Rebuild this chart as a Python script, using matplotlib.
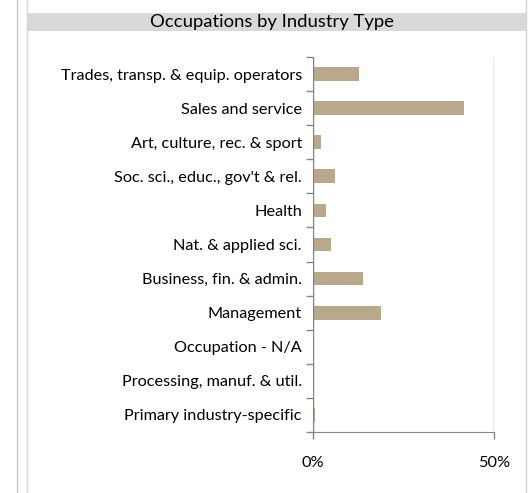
import matplotlib
matplotlib.use('Agg')
import matplotlib.pyplot as plt
from matplotlib.patches import Rectangle
from matplotlib.lines import Line2D
from matplotlib.ticker import FuncFormatter

plt.rcParams['font.family'] = ['Lato', 'DejaVu Sans']

# categories from top to bottom as in the chart
categories = ['Trades, transp. & equip. operators', 'Sales and service',
              'Art, culture, rec. & sport', "Soc. sci., educ., gov't & rel.",
              'Health', 'Nat. & applied sci.', 'Business, fin. & admin.',
              'Management', 'Occupation - N/A', 'Processing, manuf. & util.',
              'Primary industry-specific']
shares = [12.7, 41.7, 2.2, 6.1, 3.6, 5.0, 13.8, 18.8, 0.0, 0.0, 0.5]

W, H = 532, 493
fig = plt.figure(figsize=(W / 100, H / 100), dpi=100)

# frame lines and title band
fig.add_artist(Line2D([17 / W, 17 / W], [0, 1], color='#c8c8c8', lw=1))
fig.add_artist(Line2D([27 / W, 27 / W], [0, 1], color='#d4d4d4', lw=1))
fig.add_artist(Line2D([526 / W, 526 / W], [0, 1], color='#d4d4d4', lw=1))
fig.add_artist(Rectangle((27 / W, 1 - 31 / H), (526 - 27) / W, 18 / H,
                         facecolor='#d9d9d9', edgecolor='none'))
fig.text(272 / W, 1 - 22 / H, 'Occupations by Industry Type', ha='center',
         va='center', fontsize=13.3, color='#000000')

ax = fig.add_axes([313 / W, 1 - 432 / H, (494 - 313) / W, (432 - 57) / H])
y = list(range(len(categories)))
ax.barh(y, shares, height=0.4, color='#b8a98c')
ax.set_xlim(0, 50)
ax.set_ylim(len(categories) - 0.5, -0.5)
ax.set_yticks(y)
ax.set_yticklabels(categories, fontsize=11.7, color='#000000')
ax.set_yticks([i - 0.5 for i in range(len(categories) + 1)], minor=True)
ax.tick_params(axis='y', which='major', length=0, pad=8)
ax.tick_params(axis='y', which='minor', length=5, color='#868686', width=1)
ax.set_xticks([0, 50])
ax.xaxis.set_major_formatter(FuncFormatter(lambda v, p: f'{v:.0f}%'))
ax.tick_params(axis='x', length=5, color='#868686', width=1, labelsize=11.7, pad=12)
ax.grid(axis='x', color='#868686', lw=1)
for s in ['top', 'right']:
    ax.spines[s].set_visible(False)
for s in ['left', 'bottom']:
    ax.spines[s].set_color('#868686')

fig.savefig('out.png', dpi=100)
